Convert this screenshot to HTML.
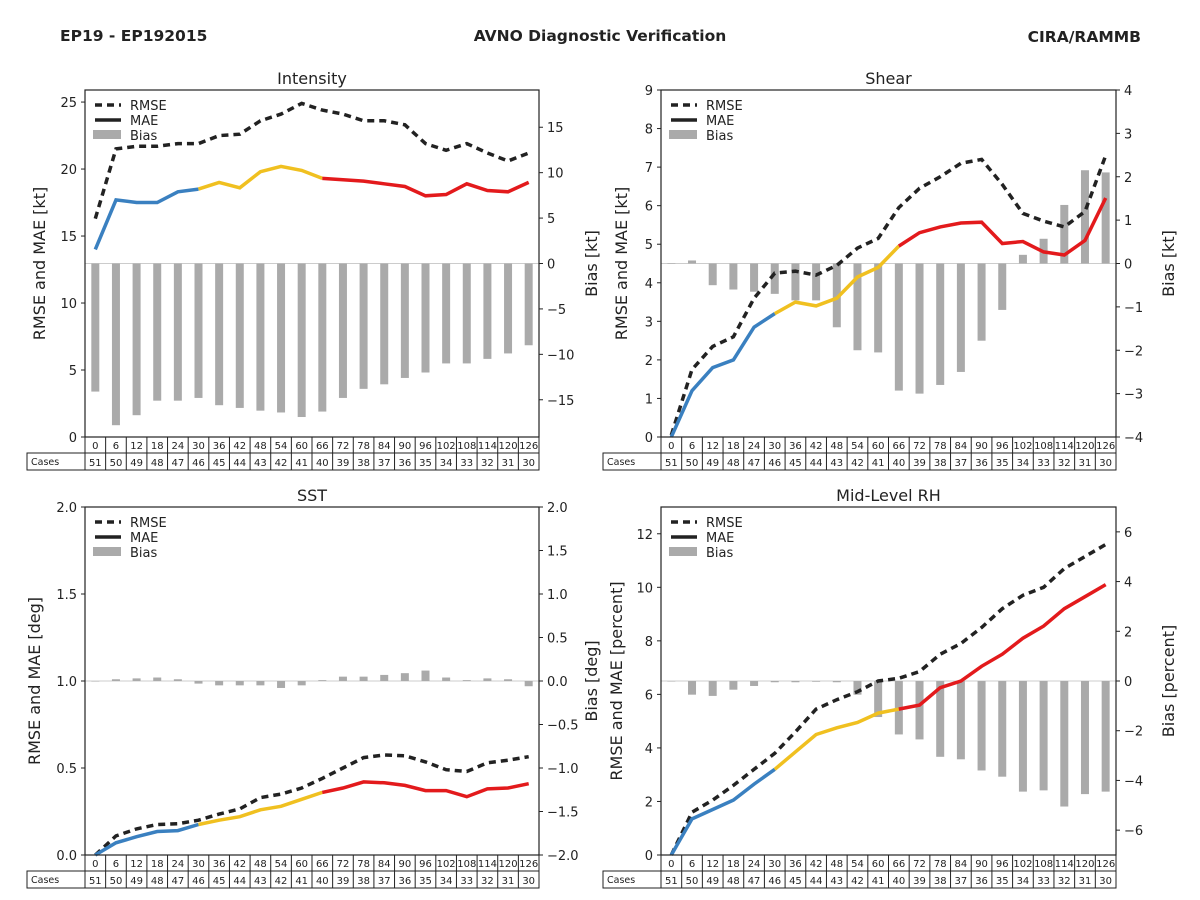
<!DOCTYPE html>
<html><head><meta charset="utf-8">
<style>
body{margin:0;background:#fff;}
svg{display:block;font-family:"DejaVu Sans","Liberation Sans",sans-serif;}
</style></head>
<body>
<svg id="chart" width="1200" height="900" viewBox="0 0 1200 900">
<text x="60" y="41" font-size="15.5" font-weight="bold" fill="#222">EP19 - EP192015</text>
<text x="600" y="41" font-size="15.5" font-weight="bold" fill="#222" text-anchor="middle">AVNO Diagnostic Verification</text>
<text x="1141" y="42" font-size="15.5" font-weight="bold" fill="#222" text-anchor="end">CIRA/RAMMB</text>
</svg>
<script>
const leads=[0,6,12,18,24,30,36,42,48,54,60,66,72,78,84,90,96,102,108,114,120,126];
const cases=[51,50,49,48,47,46,45,44,43,42,41,40,39,38,37,36,35,34,33,32,31,30];
const intRmse=[16.3,21.5,21.7,21.7,21.9,21.9,22.5,22.6,23.6,24.1,24.9,24.4,24.1,23.6,23.6,23.3,21.9,21.4,21.9,21.2,20.6,21.2];
const intMae=[14.0,17.7,17.5,17.5,18.3,18.5,19.0,18.6,19.8,20.2,19.9,19.3,19.2,19.1,18.9,18.7,18.0,18.1,18.9,18.4,18.3,19.0];
const intBias=[-14.1,-17.8,-16.7,-15.1,-15.1,-14.8,-15.6,-15.9,-16.2,-16.4,-16.9,-16.3,-14.8,-13.8,-13.3,-12.6,-12.0,-11.0,-11.0,-10.5,-9.9,-9.0];
const shRmse=[0.05,1.75,2.35,2.6,3.6,4.25,4.3,4.2,4.45,4.9,5.15,5.95,6.45,6.75,7.1,7.2,6.55,5.8,5.6,5.45,5.85,7.3];
const shMae=[0,1.2,1.8,2.0,2.85,3.2,3.5,3.4,3.6,4.15,4.4,4.95,5.3,5.45,5.55,5.57,5.02,5.07,4.8,4.72,5.1,6.2];
const shBias=[0,0.07,-0.5,-0.6,-0.65,-0.7,-0.85,-0.85,-1.47,-2.0,-2.05,-2.93,-3.0,-2.8,-2.5,-1.78,-1.07,0.2,0.57,1.35,2.15,2.1];
const sstRmse=[0,0.11,0.15,0.175,0.18,0.2,0.235,0.265,0.33,0.35,0.385,0.44,0.5,0.56,0.575,0.57,0.535,0.49,0.48,0.53,0.545,0.565];
const sstMae=[0,0.07,0.105,0.135,0.14,0.175,0.2,0.22,0.26,0.28,0.32,0.36,0.385,0.42,0.415,0.4,0.37,0.37,0.335,0.38,0.385,0.41];
const sstBias=[0,0.02,0.03,0.04,0.02,-0.03,-0.05,-0.05,-0.05,-0.08,-0.05,0.01,0.05,0.05,0.07,0.09,0.12,0.04,0.01,0.03,0.02,-0.06];
const rhRmse=[0,1.6,2.05,2.6,3.2,3.8,4.6,5.45,5.8,6.1,6.5,6.6,6.85,7.5,7.9,8.5,9.2,9.7,10.0,10.7,11.15,11.6];
const rhMae=[0,1.35,1.7,2.05,2.65,3.2,3.85,4.5,4.75,4.95,5.3,5.45,5.6,6.25,6.5,7.05,7.5,8.1,8.55,9.2,9.65,10.1];
const rhBias=[0,-0.55,-0.6,-0.35,-0.2,-0.05,-0.05,-0.03,-0.05,-0.55,-1.45,-2.15,-2.35,-3.05,-3.15,-3.6,-3.85,-4.45,-4.4,-5.05,-4.55,-4.45];
const intLT=[0,5,10,15,20,25], intLTL=["0","5","10","15","20","25"];
const intRT=[-15,-10,-5,0,5,10,15], intRTL=["\u221215","\u221210","\u22125","0","5","10","15"];
const shLT=[0,1,2,3,4,5,6,7,8,9], shLTL=["0","1","2","3","4","5","6","7","8","9"];
const shRT=[-4,-3,-2,-1,0,1,2,3,4], shRTL=["\u22124","\u22123","\u22122","\u22121","0","1","2","3","4"];
const sstLT=[0,0.5,1,1.5,2], sstLTL=["0.0","0.5","1.0","1.5","2.0"];
const sstRT=[-2,-1.5,-1,-0.5,0,0.5,1,1.5,2], sstRTL=["\u22122.0","\u22121.5","\u22121.0","\u22120.5","0.0","0.5","1.0","1.5","2.0"];
const rhLT=[0,2,4,6,8,10,12], rhLTL=["0","2","4","6","8","10","12"];
const rhRT=[-6,-4,-2,0,2,4,6], rhRTL=["\u22126","\u22124","\u22122","0","2","4","6"];

const svg=document.getElementById('chart');
const NS='http://www.w3.org/2000/svg';
function mk(tag,attrs,parent){const e=document.createElementNS(NS,tag);for(const k in attrs)e.setAttribute(k,attrs[k]);(parent||svg).appendChild(e);return e;}
function txt(s,attrs,parent){const e=mk('text',attrs,parent);e.textContent=s;return e;}

function panel(o){
  const g=mk('g',{});
  
  
  const L=o.x0,R=o.x1,T=o.y0,B=o.y1,W=R-L,H=B-T,n=leads.length,cw=W/n;
  const xs=i=>L+(i+0.5)*cw;
  const yl=v=>B-(v-o.lmin)/(o.lmax-o.lmin)*H;
  const yr=v=>B-(v-o.rmin)/(o.rmax-o.rmin)*H;
  const zl=mk('line',{x1:L,x2:R,y1:yr(0),y2:yr(0),stroke:'#ccc','stroke-width':1},g);
  
  
  o.bias.forEach((v,i)=>{
    const y0=yr(0),y1=yr(v);
    const r=mk('rect',{x:xs(i)-4,y:Math.min(y0,y1),width:8,height:Math.max(Math.abs(y1-y0),0.5),fill:'#aaaaaa'},g);
    
    
  });
  const rp=o.rmse.map((v,i)=>xs(i).toFixed(1)+','+yl(v).toFixed(1)).join(' ');
  const rl=mk('polyline',{points:rp,fill:'none',stroke:'#222','stroke-width':3.5,'stroke-dasharray':'7,5'},g);
  
  
  const segs=[[0,5,'#3a80c0','mae-line-early'],[5,11,'#f0c020','mae-line-mid'],[11,n-1,'#e31a1c','mae-line-late']];
  segs.forEach(s=>{
    const pts=[];for(let i=s[0];i<=s[1];i++)pts.push(xs(i).toFixed(1)+','+yl(o.mae[i]).toFixed(1));
    const p=mk('polyline',{points:pts.join(' '),fill:'none',stroke:s[2],'stroke-width':3.5},g);
    
    
  });
  const fr=mk('rect',{x:L,y:T,width:W,height:H,fill:'none',stroke:'#222','stroke-width':1.2},g);
  
  
  o.lt.forEach((v,i)=>{
    mk('line',{x1:L-4,x2:L,y1:yl(v),y2:yl(v),stroke:'#222'},g);
    const t=txt(o.ltl[i],{x:L-8,y:yl(v)+5,'font-size':13,'text-anchor':'end',fill:'#222'},g);
    
    
  });
  o.rt.forEach((v,i)=>{
    mk('line',{x1:R,x2:R+4,y1:yr(v),y2:yr(v),stroke:'#222'},g);
    const t=txt(o.rtl[i],{x:R+8,y:yr(v)+5,'font-size':13,'text-anchor':'start',fill:'#222'},g);
    
    
  });
  const ti=txt(o.title,{x:(L+R)/2,y:T-6,'font-size':16,'text-anchor':'middle',fill:'#222'},g);
  
  
  const ly=(T+B)/2;
  const la=txt(o.ylab,{x:0,y:0,'font-size':16,'text-anchor':'middle',fill:'#222',transform:`translate(${o.ylabx},${ly}) rotate(-90)`},g);
  
  
  const ra=txt(o.rlab,{x:0,y:0,'font-size':16,'text-anchor':'middle',fill:'#222',transform:`translate(${R+58},${ly}) rotate(-90)`},g);
  
  
  const lg=mk('g',{},g);
  
  
  mk('line',{x1:L+10,x2:L+36,y1:T+15,y2:T+15,stroke:'#222','stroke-width':3.5,'stroke-dasharray':'7,5'},lg);
  txt('RMSE',{x:L+45,y:T+20,'font-size':13,fill:'#222'},lg);
  mk('line',{x1:L+10,x2:L+36,y1:T+30,y2:T+30,stroke:'#222','stroke-width':3.5},lg);
  txt('MAE',{x:L+45,y:T+35,'font-size':13,fill:'#222'},lg);
  mk('rect',{x:L+8,y:T+40,width:28,height:9,fill:'#aaaaaa'},lg);
  txt('Bias',{x:L+45,y:T+50,'font-size':13,fill:'#222'},lg);
  const tb=mk('g',{},g);
  
  
  mk('rect',{x:L,y:B,width:W,height:16,fill:'none',stroke:'#222'},tb);
  mk('rect',{x:L-58,y:B+16,width:W+58,height:17,fill:'none',stroke:'#222'},tb);
  txt('Cases',{x:L-54,y:B+28,'font-size':9.5,fill:'#222'},tb);
  leads.forEach((v,i)=>{
    mk('line',{x1:L+i*cw,x2:L+i*cw,y1:B,y2:B+33,stroke:'#222'},tb);
    txt(String(v),{x:xs(i),y:B+12,'font-size':10,'text-anchor':'middle',fill:'#222'},tb);
    txt(String(cases[i]),{x:xs(i),y:B+29,'font-size':10,'text-anchor':'middle',fill:'#222'},tb);
  });
}
panel({name:'intensity',title:'Intensity',x0:85,x1:539,y0:90,y1:437,lmin:0,lmax:25.9,rmin:-19.1,rmax:19.1,rmse:intRmse,mae:intMae,bias:intBias,lt:intLT,ltl:intLTL,rt:intRT,rtl:intRTL,ylab:'RMSE and MAE [kt]',rlab:'Bias [kt]',ylabx:45});
panel({name:'shear',title:'Shear',x0:661,x1:1116,y0:90,y1:437,lmin:0,lmax:9,rmin:-4,rmax:4,rmse:shRmse,mae:shMae,bias:shBias,lt:shLT,ltl:shLTL,rt:shRT,rtl:shRTL,ylab:'RMSE and MAE [kt]',rlab:'Bias [kt]',ylabx:627});
panel({name:'sst',title:'SST',x0:85,x1:539,y0:507,y1:855,lmin:0,lmax:2,rmin:-2,rmax:2,rmse:sstRmse,mae:sstMae,bias:sstBias,lt:sstLT,ltl:sstLTL,rt:sstRT,rtl:sstRTL,ylab:'RMSE and MAE [deg]',rlab:'Bias [deg]',ylabx:40});
panel({name:'mid-level-rh',title:'Mid-Level RH',x0:661,x1:1116,y0:507,y1:855,lmin:0,lmax:13,rmin:-7,rmax:7,rmse:rhRmse,mae:rhMae,bias:rhBias,lt:rhLT,ltl:rhLTL,rt:rhRT,rtl:rhRTL,ylab:'RMSE and MAE [percent]',rlab:'Bias [percent]',ylabx:622});
</script>
</body></html>
